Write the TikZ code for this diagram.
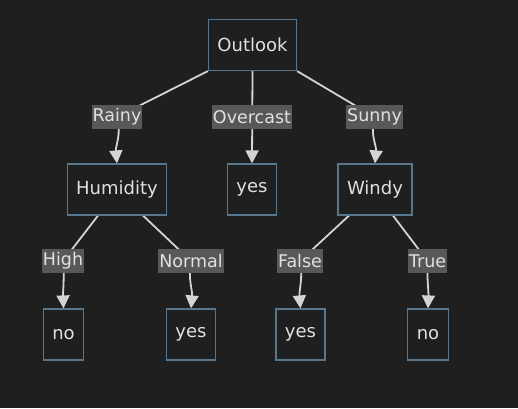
\documentclass[tikz,border=0pt]{standalone}
\usepackage{fontspec}
\setmainfont{DejaVu Sans}
\usetikzlibrary{arrows.meta, positioning}
\definecolor{bgdark}{RGB}{31,31,31}
\definecolor{boxfill}{RGB}{30,31,32}
\definecolor{boxline}{RGB}{88,118,140}
\definecolor{wiregray}{RGB}{212,212,212}
\definecolor{lblfill}{RGB}{88,88,88}
\definecolor{txtgray}{RGB}{225,225,225}
\pgfdeclarelayer{back}
\pgfdeclarelayer{wires}
\pgfsetlayers{back,wires,main}
\tikzset{
  box/.style={rectangle, draw=boxline, fill=boxfill, line width=1.2pt,
    minimum height=51pt, inner xsep=9pt, text=txtgray,
    font=\fontsize{18}{21}\selectfont},
  lbl/.style={rectangle, fill=lblfill, inner xsep=1pt, inner ysep=0pt,
    minimum height=24pt, text=txtgray, font=\fontsize{17.5}{20}\selectfont},
  wire/.style={line width=1.8pt, color=wiregray},
  arrow/.style={wire, -{Triangle[length=13pt,width=13pt]}}
}

\begin{document}
\begin{tikzpicture}[x=1pt, y=-1pt]
  % Canvas
  \useasboundingbox (0,0) rectangle (518,408);
  \begin{pgfonlayer}{back}
    \fill[bgdark] (0,0) rectangle (518,408);
  \end{pgfonlayer}

  % Decision nodes
  \node[box] (outlook)  at (252.5,45)  {Outlook};
  \node[box] (humidity) at (117,189.5) {Humidity};
  \node[box] (yesOver)  at (252,189.5) {yes};
  \node[box] (windy)    at (375,189.5) {Windy};
  \node[box] (noHigh)   at (63.5,334.5) {no};
  \node[box] (yesNorm)  at (191,334.5) {yes};
  \node[box] (yesFalse) at (300.5,334.5) {yes};
  \node[box] (noTrue)   at (428,334.5) {no};

  % Edge labels
  \node[lbl] (lRainy)  at (117,117) {Rainy};
  \node[lbl] (lOver)   at (252,117) {Overcast};
  \node[lbl] (lSunny)  at (374.5,117) {Sunny};
  \node[lbl] (lHigh)   at (63,261)  {High};
  \node[lbl] (lNormal) at (191,261) {Normal};
  \node[lbl] (lFalse)  at (300,261) {False};
  \node[lbl] (lTrue)   at (427.5,261) {True};

  % Connectors
  \begin{pgfonlayer}{wires}
    \draw[wire] (outlook.south west) -- (lRainy.center);
    \draw[arrow] (lRainy.center) to[out=-75, in=95] (humidity.north);
    \draw[arrow] (outlook.south) -- (yesOver.north);
    \draw[wire] (outlook.south east) -- (lSunny.center);
    \draw[arrow] (lSunny.center) to[out=-105, in=85] (windy.north);

    \draw[wire] ([xshift=-19pt]humidity.south) -- (lHigh.center);
    \draw[arrow] (lHigh.center) to[out=-85, in=92] (noHigh.north);
    \draw[wire] ([xshift=26pt]humidity.south) -- (lNormal.center);
    \draw[arrow] (lNormal.center) to[out=-100, in=85] (yesNorm.north);

    \draw[wire] ([xshift=-26pt]windy.south) -- (lFalse.center);
    \draw[arrow] (lFalse.center) to[out=-80, in=95] (yesFalse.north);
    \draw[wire] ([xshift=18pt]windy.south) -- (lTrue.center);
    \draw[arrow] (lTrue.center) to[out=-92, in=88] (noTrue.north);
  \end{pgfonlayer}
\end{tikzpicture}
\end{document}
